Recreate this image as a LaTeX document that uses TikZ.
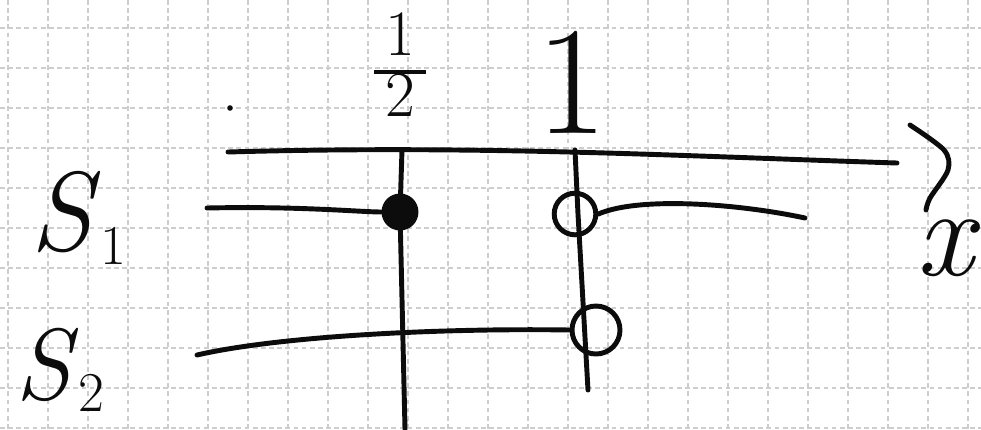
\documentclass[tikz,border=0pt]{standalone}
\usepackage{xcolor}
\usepackage{tikz}
\usetikzlibrary{arrows.meta, positioning, calc}
\definecolor{ink}{RGB}{12,12,12}
\definecolor{gridgray}{RGB}{205,205,205}
\newcommand{\bigtext}[1]{\fontsize{#1}{#1}\selectfont}
\newcommand{\wirename}[3]{\bigtext{#1}\textit{S}\raisebox{-0.12em}{\bigtext{40}#3}}
\newcommand{\halffrac}{\bigtext{46}\setlength{\arrayrulewidth}{2.4pt}\renewcommand{\arraystretch}{0.75}%
  \begin{tabular}{@{\,}c@{\,}}1\\\hline 2\end{tabular}}

\begin{document}
\begin{tikzpicture}[
  gridline/.style={draw=gridgray, line width=1.2pt, dash pattern=on 3.4pt off 2.4pt},
  pen/.style={draw=ink, line width=3.5pt, line cap=round, line join=round},
  ctrldot/.style={circle, fill=ink, draw=ink, line width=3.5pt, minimum size=8mm, inner sep=0pt},
  target/.style={circle, draw=ink, line width=3.5pt, inner sep=0pt},
  label/.style={text=ink, inner sep=0pt}
]
  \useasboundingbox (0,0) rectangle (24.525,-10.725);
  \fill[white] (0,0) rectangle (24.525,-10.725);

  \foreach \gx in {0,...,24} {
    \draw[gridline] (0.2+\gx,0) -- (0.2+\gx,-10.725);
  }
  \foreach \gy in {0,...,10} {
    \draw[gridline] (0,-0.7-\gy) -- (24.525,-0.7-\gy);
  }

  \coordinate (axl) at (5.7,-3.8);
  \coordinate (axr) at (22.425,-4.075);
  \coordinate (top12) at (10.05,-3.75);
  \coordinate (bot12) at (10.125,-10.725);
  \coordinate (top1) at (14.375,-3.75);
  \coordinate (bot1) at (14.7,-9.75);
  \coordinate (s1in) at (5.175,-5.2);
  \coordinate (s1out) at (20.125,-5.45);
  \coordinate (s2in) at (4.925,-8.875);

  \node[label] (lblhalf) at (10,-1.8) {\halffrac};
  \node[label] (lblone) at (14.3,-2.05) {\bigtext{110}1};
  \node[label] (lbls1) at (1.95,-5.45) {\wirename{80}{S}{1}};
  \node[label] (lbls2) at (1.5,-9.25) {\wirename{72}{S}{2}};
  \node[label] (lblx) at (23.7,-6.2) {\bigtext{90}\textit{x}};

  \fill[ink] (5.75,-2.7) circle (0.07);

  \draw[pen] (axl) .. controls (12,-3.62) and (17,-3.9) .. (axr);
  \draw[pen] plot[smooth] coordinates {(22.75,-3.125) (23.6,-3.75) (23.7,-4.25) (23.25,-4.95) (23.15,-5.25)};

  \draw[pen] (top12) -- (10,-5.3) -- (bot12);
  \draw[pen] (top1) -- (14.45,-5.35) -- (bot1);

  \node[ctrldot] (ctrl) at (10,-5.3) {};
  \node[target, minimum size=10.4mm] (tgt1) at (14.375,-5.35) {};
  \node[target, minimum size=12mm] (tgt2) at (14.9,-8.25) {};

  \draw[pen] (s1in) .. controls (7.5,-5.15) and (9,-5.3) .. (ctrl.west);
  \draw[pen] (tgt1.east) .. controls (16,-4.9) and (18.5,-5.1) .. (s1out);
  \draw[pen] (s2in) .. controls (7,-8.4) and (11,-8.2) .. (tgt2.west);
\end{tikzpicture}
\end{document}
